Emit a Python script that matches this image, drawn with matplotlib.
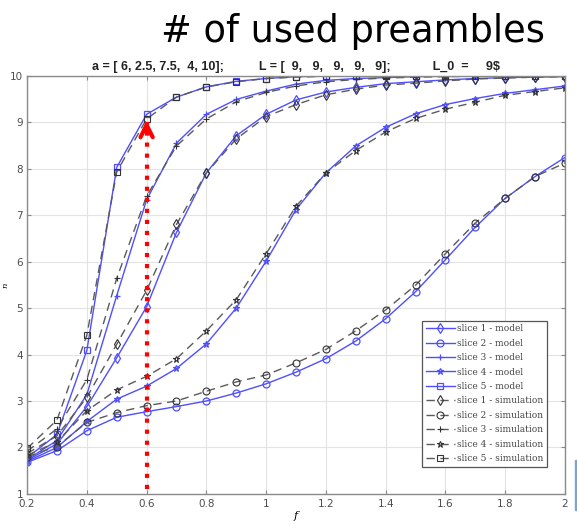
#number of used preambles vs f
#model (blue solid) against simulation (black dashed)

import matplotlib.pyplot as plt
from matplotlib.ticker import FormatStrFormatter
from matplotlib.patches import Rectangle

f = [0.2, 0.3, 0.4, 0.5, 0.6, 0.7, 0.8, 0.9, 1.0, 1.1,
     1.2, 1.3, 1.4, 1.5, 1.6, 1.7, 1.8, 1.9, 2.0]

model_1 = [1.72, 2.08, 2.88, 3.93, 5.03, 6.63, 7.91, 8.71, 9.17, 9.48,
           9.65, 9.75, 9.83, 9.87, 9.91, 9.94, 9.96, 9.97, 9.98]
sim_1 = [1.87, 2.25, 3.08, 4.22, 5.38, 6.80, 7.91, 8.64, 9.12, 9.38,
         9.59, 9.71, 9.80, 9.84, 9.89, 9.93, 9.95, 9.97, 9.98]

model_2 = [1.68, 1.93, 2.36, 2.65, 2.77, 2.88, 3.00, 3.17, 3.37, 3.62,
           3.91, 4.29, 4.77, 5.35, 6.04, 6.74, 7.36, 7.83, 8.24]
sim_2 = [1.80, 2.02, 2.54, 2.75, 2.90, 3.00, 3.21, 3.41, 3.56, 3.82,
         4.11, 4.51, 4.96, 5.49, 6.17, 6.83, 7.36, 7.83, 8.12]

model_3 = [1.74, 2.15, 3.14, 5.27, 7.33, 8.55, 9.17, 9.49, 9.67, 9.82,
           9.90, 9.94, 9.96, 9.98, 9.99, 9.99, 10.0, 10.0, 10.0]
sim_3 = [1.92, 2.40, 3.46, 5.64, 7.41, 8.49, 9.07, 9.44, 9.64, 9.78,
         9.87, 9.92, 9.95, 9.97, 9.98, 9.99, 9.99, 10.0, 10.0]

model_4 = [1.70, 2.00, 2.56, 3.04, 3.32, 3.70, 4.23, 5.00, 6.01, 7.12,
           7.91, 8.49, 8.89, 9.18, 9.38, 9.51, 9.62, 9.70, 9.78]
sim_4 = [1.83, 2.12, 2.79, 3.24, 3.53, 3.91, 4.51, 5.18, 6.17, 7.19,
         7.91, 8.39, 8.79, 9.08, 9.28, 9.43, 9.58, 9.66, 9.74]

model_5 = [1.78, 2.28, 4.09, 8.03, 9.17, 9.54, 9.76, 9.88, 9.94, 9.98,
           9.99, 10.0, 10.0, 10.0, 10.0, 10.0, 10.0, 10.0, 10.0]
sim_5 = [1.98, 2.59, 4.42, 7.93, 9.07, 9.54, 9.76, 9.87, 9.94, 9.97,
         9.99, 10.0, 10.0, 10.0, 10.0, 10.0, 10.0, 10.0, 10.0]

models = [model_1, model_2, model_3, model_4, model_5]
sims = [sim_1, sim_2, sim_3, sim_4, sim_5]
markers = ["d", "o", "+", "*", "s"]

blue = "#4f4fff"
grey = "#5a5a5a"

fig = plt.figure(figsize=(5.77, 5.26), dpi=100)
ax = fig.add_axes([0.047, 0.061, 0.932, 0.795])

for i in range(5):
    ax.plot(f, models[i], color=blue, linewidth=1.0, marker=markers[i],
            markersize=5, markerfacecolor="none", markeredgecolor=blue,
            markeredgewidth=0.9, label="slice %d - model" % (i + 1))
for i in range(5):
    ax.plot(f, sims[i], color=grey, linewidth=1.0, linestyle=(0, (6, 4)),
            marker=markers[i], markersize=5, markerfacecolor="none",
            markeredgecolor="#333333", markeredgewidth=0.8,
            label="slice %d - simulation" % (i + 1))

# red dotted arrow at f = 0.6
ax.plot([0.6, 0.6], [1.1, 9.0], color="red", linestyle=":", linewidth=3,
        zorder=5)
ax.annotate("", xy=(0.6, 9.1), xytext=(0.6, 8.75),
            arrowprops=dict(arrowstyle="->", color="red", lw=3,
                            mutation_scale=22), zorder=6)

ax.set_xlim(0.2, 2)
ax.set_ylim(1, 10)
ax.set_xticks([0.2, 0.4, 0.6, 0.8, 1.0, 1.2, 1.4, 1.6, 1.8, 2.0])
ax.set_yticks(range(1, 11))
ax.xaxis.set_major_formatter(FormatStrFormatter("%g"))
ax.grid(True, color="#e3e3e3", linewidth=0.8)
ax.set_axisbelow(True)
ax.tick_params(direction="in", length=3, width=0.8, colors="#888888",
               labelcolor="#4d4d4d", labelsize=7.5, top=True, right=True,
               pad=3)
ax.tick_params(axis="x", pad=4)
for s in ax.spines.values():
    s.set_color("#8a8a8a")
    s.set_linewidth(1.0)

ax.set_xlabel("f", fontstyle="italic", family="DejaVu Serif", fontsize=8,
              labelpad=1)
ax.set_ylabel("n", fontstyle="italic", family="DejaVu Serif", fontsize=6)
ax.yaxis.set_label_coords(-0.033, 0.5)
ax.set_title("a = [ 6, 2.5, 7.5,  4, 10];          L = [  9,   9,   9,   9,   9];            L_0  =     9$",
             fontsize=9, fontweight="bold", family="Liberation Sans",
             color="#222222", pad=4)

leg = ax.legend(loc="lower right", bbox_to_anchor=(0.966, 0.065),
                prop={"family": "DejaVu Serif", "size": 6.5},
                fancybox=False, edgecolor="#555555", framealpha=1,
                handlelength=3.2, handletextpad=0.2, labelspacing=0.6,
                borderpad=0.4, borderaxespad=0)
leg.get_frame().set_linewidth(0.9)
for t in leg.get_texts():
    t.set_color("#444444")

fig.text(0.945, 0.94, "# of used preambles", fontsize=26.5, ha="right",
         va="center", family="DejaVu Sans", color="black")

# sliver of slide graphic at the right edge
fig.patches.append(Rectangle((0.996, 0.03), 0.004, 0.095,
                             transform=fig.transFigure, color="#6fa8dc"))

plt.savefig("out.png", dpi=100)
